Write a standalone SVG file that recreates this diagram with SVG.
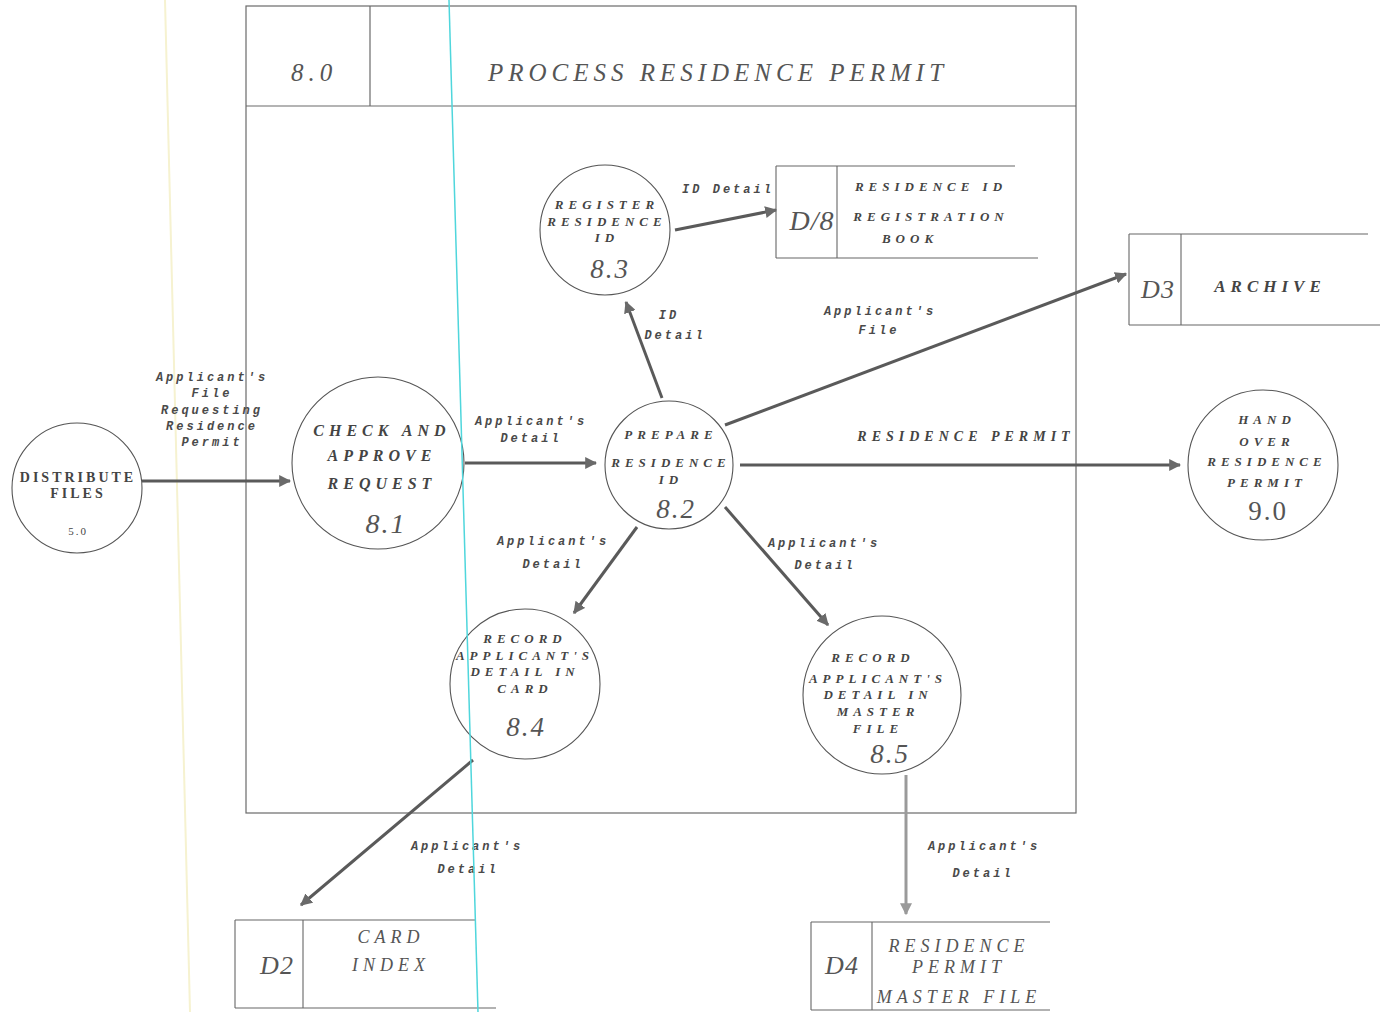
<svg xmlns="http://www.w3.org/2000/svg" width="1380" height="1012" viewBox="0 0 1380 1012">
  <style>
    .frame { fill: none; stroke: #6a6a6a; stroke-width: 1.2; }
    .proc { fill: #fff; stroke: #555; stroke-width: 1.1; }
    .store { fill: none; stroke: #666; stroke-width: 1.1; }
    .flow { fill: none; stroke: #5a5a5a; stroke-width: 3; marker-end: url(#head); }
    .flow-light { fill: none; stroke: #9a9a9a; stroke-width: 3; marker-end: url(#head-light); }
    .t { font-family: "Liberation Serif", "DejaVu Serif", serif; font-style: italic; fill: #444; text-anchor: middle; letter-spacing: 5px; }
    .pt { font-size: 14px; font-weight: bold; }
    .num { font-size: 27px; letter-spacing: 2px; fill: #555; }
    .lbl { font-family: "Liberation Mono", "DejaVu Sans Mono", monospace; font-style: italic; font-weight: bold; font-size: 12px; fill: #4a4a4a; text-anchor: middle; letter-spacing: 3px; }
    .big { font-size: 25px; letter-spacing: 5px; fill: #555; }
    .sid { font-size: 28px; fill: #555; letter-spacing: 1px; }
  </style>
  <defs>
    <marker id="head" viewBox="0 0 10 10" refX="9" refY="5" markerWidth="4" markerHeight="4" orient="auto">
      <path d="M0,0 L10,5 L0,10 z" fill="#6a6a6a"/>
    </marker>
    <marker id="head-light" viewBox="0 0 10 10" refX="9" refY="5" markerWidth="4" markerHeight="4" orient="auto">
      <path d="M0,0 L10,5 L0,10 z" fill="#9a9a9a"/>
    </marker>
  </defs>

  <rect x="0" y="0" width="1380" height="1012" fill="#fff"/>

  <!-- faint guide line on the sheet -->
  <line x1="165" y1="0" x2="190" y2="1012" stroke="#f6f2d0" stroke-width="2"/>

  <!-- process 8.0 boundary with title strip -->
  <g id="process-8-0">
    <rect class="frame" x="246" y="6" width="830" height="807"/>
    <line class="frame" x1="246" y1="106" x2="1076" y2="106"/>
    <line class="frame" x1="370" y1="6" x2="370" y2="106"/>
    <text class="t big" x="314" y="81">8.0</text>
    <text class="t big" x="718" y="81">PROCESS RESIDENCE PERMIT</text>
  </g>

  <!-- data flows -->
  <g id="connectors">
    <line class="flow" x1="142" y1="481" x2="290" y2="481"/>
    <line class="flow" x1="465" y1="463" x2="596" y2="463"/>
    <line class="flow" x1="662" y1="398" x2="626" y2="302"/>
    <line class="flow" x1="675" y1="230" x2="776" y2="210"/>
    <line class="flow" x1="725" y1="425" x2="1126" y2="274"/>
    <line class="flow" x1="740" y1="465" x2="1180" y2="465"/>
    <line class="flow" x1="637" y1="527" x2="574" y2="613"/>
    <line class="flow" x1="725" y1="507" x2="828" y2="625"/>
    <line class="flow" x1="473" y1="760" x2="301" y2="905"/>
    <line class="flow-light" x1="906" y1="775" x2="906" y2="914"/>

    <text class="lbl" x="212" y="381">Applicant's</text>
    <text class="lbl" x="212" y="397">File</text>
    <text class="lbl" x="212" y="414">Requesting</text>
    <text class="lbl" x="212" y="430">Residence</text>
    <text class="lbl" x="212" y="446">Permit</text>

    <text class="lbl" x="531" y="425">Applicant's</text>
    <text class="lbl" x="531" y="442">Detail</text>

    <text class="lbl" x="728" y="193">ID Detail</text>

    <text class="lbl" x="669" y="319">ID</text>
    <text class="lbl" x="675" y="339">Detail</text>

    <text class="lbl" x="880" y="315">Applicant's</text>
    <text class="lbl" x="879" y="334">File</text>

    <text class="t" style="font-size:14px;font-weight:bold;letter-spacing:5px" x="966" y="441">RESIDENCE PERMIT</text>

    <text class="lbl" x="553" y="545">Applicant's</text>
    <text class="lbl" x="553" y="568">Detail</text>

    <text class="lbl" x="824" y="547">Applicant's</text>
    <text class="lbl" x="825" y="569">Detail</text>

    <text class="lbl" x="467" y="850">Applicant's</text>
    <text class="lbl" x="468" y="873">Detail</text>

    <text class="lbl" x="984" y="850">Applicant's</text>
    <text class="lbl" x="983" y="877">Detail</text>
  </g>

  <!-- external process 5.0 -->
  <g id="node-5-0">
    <circle class="proc" cx="77" cy="488" r="65"/>
    <text class="t" style="font-size:14px;font-style:normal;font-weight:bold;letter-spacing:3px" x="78" y="482">DISTRIBUTE</text>
    <text class="t" style="font-size:14px;font-style:normal;font-weight:bold;letter-spacing:3px" x="78" y="498">FILES</text>
    <text class="t" style="font-size:11px;font-style:normal;letter-spacing:2px" x="78" y="535">5.0</text>
  </g>

  <!-- 8.1 check and approve -->
  <g id="node-8-1">
    <circle class="proc" cx="378" cy="463" r="86"/>
    <text class="t pt" style="font-size:16px" x="382" y="436">CHECK AND</text>
    <text class="t pt" style="font-size:16px" x="382" y="461">APPROVE</text>
    <text class="t pt" style="font-size:16px" x="382" y="489">REQUEST</text>
    <text class="t num" style="font-size:28px" x="386" y="533">8.1</text>
  </g>

  <!-- 8.2 prepare residence id -->
  <g id="node-8-2">
    <circle class="proc" cx="669" cy="465" r="64"/>
    <text class="t pt" style="font-size:13px" x="671" y="439">PREPARE</text>
    <text class="t pt" style="font-size:13px" x="671" y="467">RESIDENCE</text>
    <text class="t pt" style="font-size:13px" x="671" y="484">ID</text>
    <text class="t num" x="676" y="518">8.2</text>
  </g>

  <!-- 8.3 register residence id -->
  <g id="node-8-3">
    <circle class="proc" cx="605" cy="230" r="65"/>
    <text class="t pt" style="font-size:13px" x="607" y="209">REGISTER</text>
    <text class="t pt" style="font-size:13px" x="607" y="226">RESIDENCE</text>
    <text class="t pt" style="font-size:13px" x="607" y="242">ID</text>
    <text class="t num" x="610" y="278">8.3</text>
  </g>

  <!-- D/8 residence id registration book -->
  <g id="store-d8">
    <line class="store" x1="776" y1="166" x2="1015" y2="166"/>
    <line class="store" x1="776" y1="258" x2="1038" y2="258"/>
    <line class="store" x1="776" y1="166" x2="776" y2="258"/>
    <line class="store" x1="837" y1="166" x2="837" y2="258"/>
    <text class="t sid" x="812" y="230">D/8</text>
    <text class="t pt" style="font-size:13px" x="931" y="191">RESIDENCE ID</text>
    <text class="t pt" style="font-size:13px" x="931" y="221">REGISTRATION</text>
    <text class="t pt" style="font-size:13px" x="910" y="243">BOOK</text>
  </g>

  <!-- D3 archive -->
  <g id="store-d3">
    <line class="store" x1="1129" y1="234" x2="1368" y2="234"/>
    <line class="store" x1="1129" y1="325" x2="1380" y2="325"/>
    <line class="store" x1="1129" y1="234" x2="1129" y2="325"/>
    <line class="store" x1="1181" y1="234" x2="1181" y2="325"/>
    <text class="t sid" style="font-size:26px" x="1158" y="298">D3</text>
    <text class="t pt" style="font-size:17px" x="1270" y="292">ARCHIVE</text>
  </g>

  <!-- 9.0 hand over residence permit -->
  <g id="node-9-0">
    <circle class="proc" cx="1263" cy="465" r="75"/>
    <text class="t pt" style="font-size:13px" x="1267" y="424">HAND</text>
    <text class="t pt" style="font-size:13px" x="1267" y="446">OVER</text>
    <text class="t pt" style="font-size:13px" x="1267" y="466">RESIDENCE</text>
    <text class="t pt" style="font-size:13px" x="1267" y="487">PERMIT</text>
    <text class="t" style="font-size:27px;font-style:normal;fill:#555;letter-spacing:2px" x="1268" y="520">9.0</text>
  </g>

  <!-- 8.4 record applicant's detail in card -->
  <g id="node-8-4">
    <circle class="proc" cx="525" cy="684" r="75"/>
    <text class="t pt" style="font-size:13px" x="525" y="643">RECORD</text>
    <text class="t pt" style="font-size:13px" x="525" y="660">APPLICANT'S</text>
    <text class="t pt" style="font-size:13px" x="525" y="676">DETAIL IN</text>
    <text class="t pt" style="font-size:13px" x="525" y="693">CARD</text>
    <text class="t num" x="526" y="736">8.4</text>
  </g>

  <!-- 8.5 record applicant's detail in master file -->
  <g id="node-8-5">
    <circle class="proc" cx="882" cy="695" r="79"/>
    <text class="t pt" style="font-size:13px" x="873" y="662">RECORD</text>
    <text class="t pt" style="font-size:13px" x="878" y="683">APPLICANT'S</text>
    <text class="t pt" style="font-size:13px" x="878" y="699">DETAIL IN</text>
    <text class="t pt" style="font-size:13px" x="878" y="716">MASTER</text>
    <text class="t pt" style="font-size:13px" x="878" y="733">FILE</text>
    <text class="t num" x="890" y="763">8.5</text>
  </g>

  <!-- D2 card index -->
  <g id="store-d2">
    <line class="store" x1="235" y1="920" x2="475" y2="920"/>
    <line class="store" x1="235" y1="1008" x2="496" y2="1008"/>
    <line class="store" x1="235" y1="920" x2="235" y2="1008"/>
    <line class="store" x1="303" y1="920" x2="303" y2="1008"/>
    <text class="t sid" style="font-size:26px" x="277" y="974">D2</text>
    <text class="t" style="font-size:18px;fill:#555" x="391" y="943">CARD</text>
    <text class="t" style="font-size:18px;fill:#555" x="391" y="971">INDEX</text>
  </g>

  <!-- D4 residence permit master file -->
  <g id="store-d4">
    <line class="store" x1="811" y1="922" x2="1050" y2="922"/>
    <line class="store" x1="811" y1="1010" x2="1050" y2="1010"/>
    <line class="store" x1="811" y1="922" x2="811" y2="1010"/>
    <line class="store" x1="872" y1="922" x2="872" y2="1010"/>
    <text class="t sid" style="font-size:26px" x="842" y="974">D4</text>
    <text class="t" style="font-size:18px;fill:#555" x="959" y="952">RESIDENCE</text>
    <text class="t" style="font-size:18px;fill:#555" x="959" y="973">PERMIT</text>
    <text class="t" style="font-size:18px;fill:#555" x="959" y="1003">MASTER FILE</text>
  </g>

  <!-- cyan rule across the sheet -->
  <line x1="449" y1="0" x2="478" y2="1012" stroke="#4fd6dc" stroke-width="1.5"/>
</svg>
